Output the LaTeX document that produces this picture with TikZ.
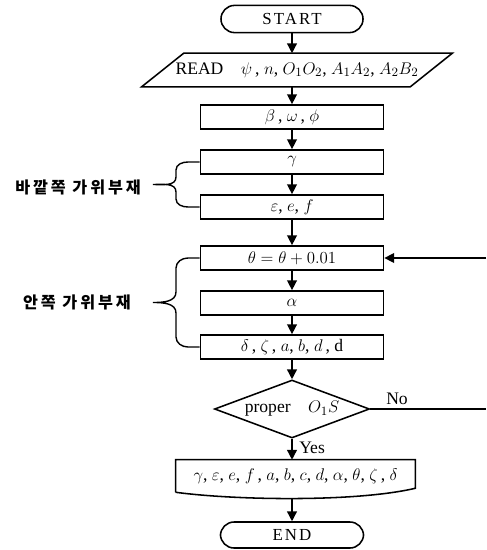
\documentclass[tikz,border=0pt]{standalone}
\usepackage{amsmath,amssymb}
\usepackage{fontspec}
\setmainfont{Liberation Serif}
\newfontfamily\korfont[LetterSpace=18]{Noto Sans CJK KR}
\usepackage{tikz}
\usetikzlibrary{arrows.meta, positioning, shapes.geometric, calc}

\begin{document}
\begin{tikzpicture}[
    x=0.025cm, y=-0.025cm,
    font=\fontsize{12.5}{14}\selectfont,
    term/.style={draw, line width=1.1pt, rounded corners=0.34cm, minimum width=3.55cm, minimum height=0.68cm, font=\fontsize{12}{14}\selectfont\addfontfeature{LetterSpace=12}},
    proc/.style={draw, line width=1.2pt, minimum width=4.575cm, minimum height=0.6cm, inner sep=1pt},
    decision/.style={draw, diamond, line width=1.1pt, aspect=2.7, minimum width=3.875cm, minimum height=1.45cm, inner sep=0pt},
    kor/.style={font=\korfont\bfseries\fontsize{11.5}{13}\selectfont, inner sep=0pt},
    brc/.style={line width=1pt},
    arr/.style={-{Triangle[length=7pt, width=7pt]}, line width=1pt},
    >=Triangle
]
\useasboundingbox (0,0) rectangle (486,550);

% start and input
\node[term] (start) at (292,19) {START};
\node[minimum width=6.7cm, minimum height=0.825cm, inner sep=0pt] (read) at (297,70)
    {READ\quad $\psi$\,, $n$, $O_1O_2$, $A_1A_2$, $A_2B_2$};
\draw[line width=1.1pt] ($(read.south west)+(-21,0)$) -- ($(read.north west)+(21,0)$)
    -- ($(read.north east)+(21,0)$) -- ($(read.south east)+(-21,0)$) -- cycle;

% process boxes
\node[proc] (beta) at (292,117) {$\beta$\,, $\omega$\,, $\phi$};
\node[proc] (gam) at (292,162) {$\gamma$};
\node[proc] (eps) at (292,207) {$\varepsilon$, $e$, $f$};
\node[proc] (theta) at (292,258) {$\theta = \theta + 0.01$};
\node[proc] (alp) at (292,303) {$\alpha$};
\node[proc] (del) at (292,347) {$\delta$\,, $\zeta$\,, $a$, $b$, $d$\,, d};

% check
\node[decision] (chk) at (292,409) {proper\quad$O_1S$};

% output
\node[minimum width=5.975cm, minimum height=0.8cm, inner sep=0pt] (res) at (295.5,476)
    {$\gamma$, $\varepsilon$, $e$, $f$\,, $a$, $b$, $c$, $d$, $\alpha$, $\theta$, $\zeta$\,, $\delta$};
\draw[line width=1.1pt] (res.south west) -- (res.north west) -- (res.north east)
    -- ($(res.south east)+(0,-4)$) .. controls +(-60,14) and +(60,8) .. (res.south west);
\coordinate (resfoot) at ($(res.south)+(-3.5,7)$);

\node[term, minimum width=3.575cm, minimum height=0.65cm] (stop) at (292,535) {END};

% flow
\draw[arr] (start) -- (start |- read.north);
\draw[arr] (beta |- read.south) -- (beta);
\draw[arr] (beta) -- (gam);
\draw[arr] (gam) -- (eps);
\draw[arr] (eps) -- (theta);
\draw[arr] (theta) -- (alp);
\draw[arr] (alp) -- (del);
\draw[arr] (del) -- (chk);
\draw[arr] (chk) -- (chk |- res.north);
\draw[arr] (resfoot) -- (stop);
\node[anchor=west, inner sep=0pt] (yes) at (299,448) {Yes};

% loop back
\coordinate (loopin) at (486,258);
\coordinate (loopout) at (486,409);
\draw[arr] (loopin) -- (theta);
\draw[line width=1pt] (chk.east) -- (loopout);
\node[inner sep=0pt] (no) at (397,399) {No};

% braces
\draw[brc] (gam.west) -- (188,162) to[out=180,in=90] (176,170) -- (176,177)
    to[out=-90,in=0] (153,184.5) to[out=0,in=90] (176,192) -- (176,199)
    to[out=-90,in=180] (188,207) -- (eps.west);
\draw[brc] (theta.west) -- (188,258) to[out=180,in=90] (176,268) -- (176,292)
    to[out=-90,in=0] (153,302.5) to[out=0,in=90] (176,313) -- (176,337)
    to[out=-90,in=180] (188,347) -- (del.west);
\node[kor, anchor=east] (outer) at (141,187) {바깥쪽 가위부재};
\node[kor, anchor=east] (inner) at (131,302) {안쪽 가위부재};

\end{tikzpicture}
\end{document}
